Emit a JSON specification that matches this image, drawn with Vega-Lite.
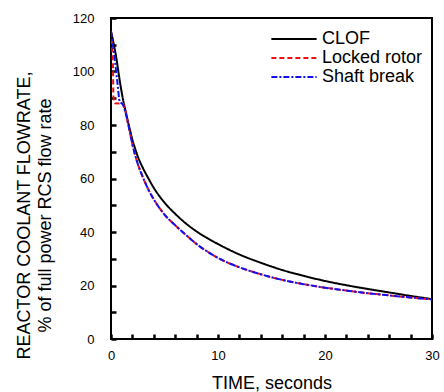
{
  "$schema": "https://vega.github.io/schema/vega-lite/v6.json",
  "width": 321,
  "height": 321,
  "autosize": {"type": "none"},
  "padding": {"left": 111, "top": 18, "right": 12, "bottom": 53},
  "background": "white",
  "config": {
    "view": {"stroke": "black", "strokeWidth": 2},
    "font": "Liberation Sans",
    "axis": {"ticks": true, "tickOpacity": 1}
  },
  "data": {"values": [
    {"case": "CLOF", "t": 0, "v": 115},
    {"case": "CLOF", "t": 0.5, "v": 105},
    {"case": "CLOF", "t": 0.8, "v": 97},
    {"case": "CLOF", "t": 1.1, "v": 90},
    {"case": "CLOF", "t": 1.4, "v": 84.5},
    {"case": "CLOF", "t": 1.75, "v": 78.5},
    {"case": "CLOF", "t": 2.0, "v": 74.5},
    {"case": "CLOF", "t": 2.27, "v": 71},
    {"case": "CLOF", "t": 2.5, "v": 68.3},
    {"case": "CLOF", "t": 3, "v": 63.8},
    {"case": "CLOF", "t": 3.5, "v": 60},
    {"case": "CLOF", "t": 4, "v": 56.5},
    {"case": "CLOF", "t": 5, "v": 51},
    {"case": "CLOF", "t": 6, "v": 46.8},
    {"case": "CLOF", "t": 7, "v": 43.2},
    {"case": "CLOF", "t": 8, "v": 40.2},
    {"case": "CLOF", "t": 9, "v": 37.7},
    {"case": "CLOF", "t": 10, "v": 35.5},
    {"case": "CLOF", "t": 12, "v": 31.6},
    {"case": "CLOF", "t": 14, "v": 28.5},
    {"case": "CLOF", "t": 16, "v": 25.8},
    {"case": "CLOF", "t": 18, "v": 23.6},
    {"case": "CLOF", "t": 20, "v": 21.7},
    {"case": "CLOF", "t": 22, "v": 20.1},
    {"case": "CLOF", "t": 24, "v": 18.7},
    {"case": "CLOF", "t": 26, "v": 17.4},
    {"case": "CLOF", "t": 28, "v": 16.1},
    {"case": "CLOF", "t": 30, "v": 14.9},
    {"case": "Locked rotor", "t": 0, "v": 115},
    {"case": "Locked rotor", "t": 0.08, "v": 110},
    {"case": "Locked rotor", "t": 0.19, "v": 101},
    {"case": "Locked rotor", "t": 0.22, "v": 91},
    {"case": "Locked rotor", "t": 0.35, "v": 88.1},
    {"case": "Locked rotor", "t": 1.1, "v": 88},
    {"case": "Locked rotor", "t": 1.28, "v": 86.2},
    {"case": "Locked rotor", "t": 1.6, "v": 80.5},
    {"case": "Locked rotor", "t": 2, "v": 72.8},
    {"case": "Locked rotor", "t": 2.5, "v": 65.5},
    {"case": "Locked rotor", "t": 3, "v": 60.3},
    {"case": "Locked rotor", "t": 3.5, "v": 55.8},
    {"case": "Locked rotor", "t": 4, "v": 52.2},
    {"case": "Locked rotor", "t": 5, "v": 46.5},
    {"case": "Locked rotor", "t": 6, "v": 42.5},
    {"case": "Locked rotor", "t": 7, "v": 38.9},
    {"case": "Locked rotor", "t": 8, "v": 35.5},
    {"case": "Locked rotor", "t": 9, "v": 32.7},
    {"case": "Locked rotor", "t": 10, "v": 30.3},
    {"case": "Locked rotor", "t": 12, "v": 26.8},
    {"case": "Locked rotor", "t": 14, "v": 24.2},
    {"case": "Locked rotor", "t": 16, "v": 22.1},
    {"case": "Locked rotor", "t": 18, "v": 20.5},
    {"case": "Locked rotor", "t": 20, "v": 19.2},
    {"case": "Locked rotor", "t": 22, "v": 18.1},
    {"case": "Locked rotor", "t": 24, "v": 17.1},
    {"case": "Locked rotor", "t": 26, "v": 16.3},
    {"case": "Locked rotor", "t": 28, "v": 15.5},
    {"case": "Locked rotor", "t": 30, "v": 14.8},
    {"case": "Shaft break", "t": 0, "v": 115},
    {"case": "Shaft break", "t": 0.34, "v": 105},
    {"case": "Shaft break", "t": 0.59, "v": 96.2},
    {"case": "Shaft break", "t": 0.81, "v": 88.9},
    {"case": "Shaft break", "t": 1.12, "v": 87.5},
    {"case": "Shaft break", "t": 1.3, "v": 85.5},
    {"case": "Shaft break", "t": 1.6, "v": 80.5},
    {"case": "Shaft break", "t": 2, "v": 72.8},
    {"case": "Shaft break", "t": 2.5, "v": 65.5},
    {"case": "Shaft break", "t": 3, "v": 60.3},
    {"case": "Shaft break", "t": 3.5, "v": 55.8},
    {"case": "Shaft break", "t": 4, "v": 52.2},
    {"case": "Shaft break", "t": 5, "v": 46.5},
    {"case": "Shaft break", "t": 6, "v": 42.5},
    {"case": "Shaft break", "t": 7, "v": 38.9},
    {"case": "Shaft break", "t": 8, "v": 35.5},
    {"case": "Shaft break", "t": 9, "v": 32.7},
    {"case": "Shaft break", "t": 10, "v": 30.3},
    {"case": "Shaft break", "t": 12, "v": 26.8},
    {"case": "Shaft break", "t": 14, "v": 24.2},
    {"case": "Shaft break", "t": 16, "v": 22.1},
    {"case": "Shaft break", "t": 18, "v": 20.5},
    {"case": "Shaft break", "t": 20, "v": 19.2},
    {"case": "Shaft break", "t": 22, "v": 18.1},
    {"case": "Shaft break", "t": 24, "v": 17.1},
    {"case": "Shaft break", "t": 26, "v": 16.3},
    {"case": "Shaft break", "t": 28, "v": 15.5},
    {"case": "Shaft break", "t": 30, "v": 14.8}
  ]},
  "mark": {"type": "line", "strokeWidth": 2, "clip": true, "interpolate": "monotone"},
  "encoding": {
    "x": {
      "field": "t", "type": "quantitative",
      "scale": {"domain": [0, 30], "nice": false},
      "axis": {
        "title": "TIME, seconds", "offset": -5,
        "titleFont": "Liberation Sans", "titleFontSize": 18, "titleFontWeight": "normal", "titleColor": "black",
        "titlePadding": 12,
        "tickCount": 15,
        "labelExpr": "datum.value % 10 === 0 ? datum.label : ''",
        "labelFontSize": 13, "labelColor": "black", "labelPadding": 10, "labelFlush": false,
        "tickSize": 5, "tickColor": "black", "tickWidth": 2.5,
        "domain": false, "grid": false
      }
    },
    "y": {
      "field": "v", "type": "quantitative",
      "scale": {"domain": [0, 120], "nice": false},
      "axis": {
        "title": ["REACTOR COOLANT FLOWRATE,", "% of full power RCS flow rate"], "offset": -5,
        "titleFont": "Liberation Sans", "titleFontSize": 18, "titleFontWeight": "normal", "titleColor": "black",
        "titleLineHeight": 21, "titlePadding": 18, "titleY": 197,
        "tickCount": 12,
        "labelExpr": "datum.value % 20 === 0 ? datum.label : ''",
        "labelFontSize": 13, "labelColor": "black", "labelPadding": 17, "labelFlush": false,
        "tickSize": 5, "tickColor": "black", "tickWidth": 2.5,
        "domain": false, "grid": false
      }
    },
    "color": {
      "field": "case", "type": "nominal",
      "scale": {"domain": ["CLOF", "Locked rotor", "Shaft break"], "range": ["#000000", "#ee1111", "#1111ee"]},
      "legend": {
        "title": null, "orient": "none", "legendX": 174, "legendY": 12, "padding": 0,
        "symbolType": "M-4,0H4", "symbolSize": 128, "symbolStrokeWidth": 2, "symbolFillColor": "transparent",
        "labelFontSize": 18, "labelColor": "black", "labelFont": "Liberation Sans",
        "labelOffset": 19, "rowPadding": 1
      }
    },
    "strokeDash": {
      "field": "case", "type": "nominal",
      "scale": {"domain": ["CLOF", "Locked rotor", "Shaft break"], "range": [[1, 0], [5, 3], [6, 2, 2, 2]]},
      "legend": null
    }
  }
}
